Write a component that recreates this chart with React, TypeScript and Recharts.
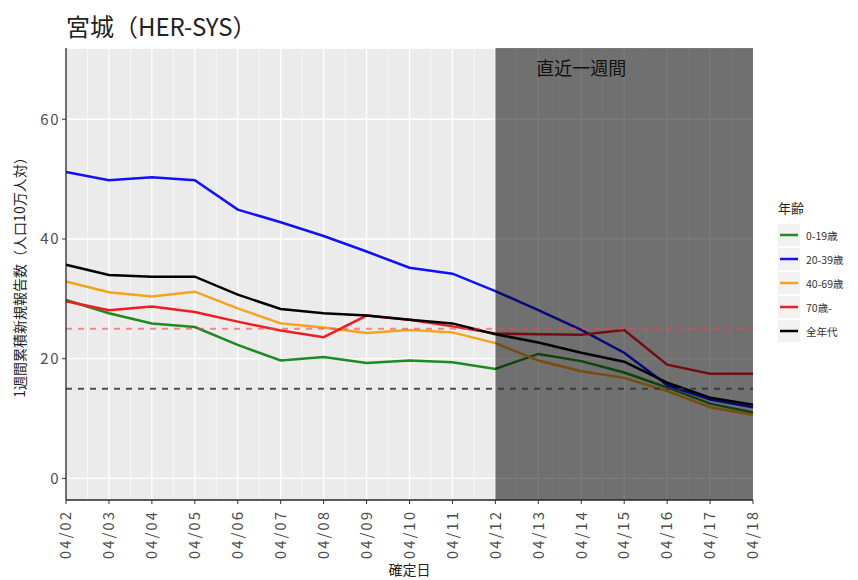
import React from 'react';
import {
	LineChart,
	Line,
	XAxis,
	YAxis,
	CartesianGrid,
	ReferenceArea,
	ReferenceLine,
	Legend,
} from 'recharts';

const dates = [
	'04/02', '04/03', '04/04', '04/05', '04/06', '04/07', '04/08', '04/09', '04/10',
	'04/11', '04/12', '04/13', '04/14', '04/15', '04/16', '04/17', '04/18',
];
const age0_19 = [29.8, 27.6, 25.9, 25.3, 22.3, 19.7, 20.3, 19.3, 19.7, 19.4, 18.3, 20.8, 19.6, 17.7, 15.2, 12.5, 11.0];
const age20_39 = [51.2, 49.8, 50.3, 49.8, 44.9, 42.8, 40.5, 37.9, 35.2, 34.2, 31.3, 28.1, 24.8, 21.0, 15.6, 13.2, 11.9];
const age40_69 = [32.9, 31.1, 30.4, 31.2, 28.4, 25.9, 25.2, 24.3, 24.8, 24.4, 22.6, 19.7, 17.9, 16.8, 14.6, 11.9, 10.6];
const age70 = [29.6, 28.1, 28.7, 27.8, 26.2, 24.7, 23.6, 27.2, 26.5, 25.4, 24.2, 24.1, 24.0, 24.8, 19.0, 17.5, 17.5];
const ageAll = [35.7, 34.0, 33.7, 33.7, 30.7, 28.3, 27.6, 27.2, 26.5, 25.9, 24.1, 22.7, 21.0, 19.5, 16.0, 13.5, 12.3];

const seriesNames = ['0-19歳', '20-39歳', '40-69歳', '70歳-', '全年代'];
const seriesColors = ['#1f8a1f', '#1010ff', '#f7a21b', '#f01c24', '#000000'];
const seriesValues = [age0_19, age20_39, age40_69, age70, ageAll];

const yTicks = [0, 20, 40, 60];
const yMinor = [10, 30, 50, 70];
const xTicks = dates.map((_, i) => i);
const xMinor = dates.slice(1).map((_, i) => i + 0.5);

const data = dates.map((d, i) => {
	const row: Record<string, any> = { i, date: d };
	seriesNames.forEach((n, k) => {
		row[n] = seriesValues[k][i];
	});
	return row;
});

const font = '"Noto Sans CJK JP", "Noto Sans", sans-serif';

const renderLegend = () => (
	<div style={{ fontFamily: font, color: '#222' }}>
		<div style={{ fontSize: 13, marginBottom: 6 }}>年齢</div>
		{seriesNames.map((n, k) => (
			<div key={n} style={{ display: 'flex', alignItems: 'center', height: 24 }}>
				<svg width={22} height={22}>
					<rect x={0} y={0} width={22} height={22} fill='#f2f2f2' />
					<line x1={2} x2={20} y1={11} y2={11} stroke={seriesColors[k]} strokeWidth={2.5} />
				</svg>
				<span style={{ fontSize: 10.5, marginLeft: 6, color: '#333' }}>{n}</span>
			</div>
		))}
	</div>
);

const App = () => {
	return (
		<div style={{ position: 'absolute', left: 0, top: 0, width: 858, height: 580, background: '#fff' }}>
			<div
				style={{
					position: 'absolute',
					left: 66,
					top: 8,
					fontFamily: font,
					fontSize: 24,
					color: '#222',
				}}
			>
				宮城（HER-SYS）
			</div>
			<LineChart
				width={858}
				height={580}
				data={data}
				margin={{ top: 48, right: 105, bottom: 0, left: 0 }}
			>
				<XAxis xAxisId='minor' dataKey='i' type='number' domain={[0, 16]} ticks={xMinor} hide />
				<YAxis yAxisId='minor' type='number' domain={[-3.6, 71.9]} ticks={yMinor} hide />
				<CartesianGrid
					xAxisId='minor'
					yAxisId='minor'
					fill='#ebebeb'
					stroke='#ffffff'
					strokeWidth={0.6}
				/>
				<CartesianGrid stroke='#ffffff' strokeWidth={1.3} />
				<XAxis
					dataKey='i'
					type='number'
					domain={[0, 16]}
					ticks={xTicks}
					interval={0}
					tickFormatter={(v) => dates[v]}
					height={80}
					axisLine={{ stroke: '#222', strokeWidth: 1.3 }}
					tickLine={{ stroke: '#333' }}
					tickSize={4}
					tick={(props: any) => (
						<text
							x={props.x}
							y={props.y + 4}
							transform={`rotate(-90, ${props.x}, ${props.y + 4})`}
							textAnchor='end'
							dy='0.35em'
							fill='#4d4d4d'
							fontSize={15}
							letterSpacing={2}
							fontFamily={font}
						>
							{dates[props.payload.value]}
						</text>
					)}
					label={{
						value: '確定日',
						position: 'insideBottom',
						offset: 5,
						fill: '#222',
						fontSize: 14,
						fontFamily: font,
					}}
				/>
				<YAxis
					type='number'
					domain={[-3.6, 71.9]}
					ticks={yTicks}
					width={66}
					axisLine={{ stroke: '#222', strokeWidth: 1.3 }}
					tickLine={{ stroke: '#333' }}
					tickSize={4}
					tick={{ fill: '#4d4d4d', fontSize: 15, fontFamily: font, letterSpacing: 1.5 }}
					label={{
						value: '1週間累積新規報告数（人口10万人対）',
						angle: -90,
						position: 'insideLeft',
						offset: 20,
						style: { textAnchor: 'middle' },
						fill: '#222',
						fontSize: 14,
						fontFamily: font,
					}}
				/>
				{seriesNames.map((n, k) => (
					<Line
						key={n}
						dataKey={n}
						name={n}
						stroke={seriesColors[k]}
						strokeWidth={2.5}
						dot={false}
						isAnimationActive={false}
					/>
				))}
				<ReferenceArea
					x1={10}
					x2={16}
					fill='#000000'
					fillOpacity={0.52}
					stroke='none'
					zIndex={450}
				/>
				<ReferenceLine y={25} stroke='#f04848' strokeOpacity={0.6} strokeWidth={2} strokeDasharray='6 6' zIndex={460} />
				<ReferenceLine y={15} stroke='#333' strokeOpacity={0.85} strokeWidth={2} strokeDasharray='6 6' zIndex={460} />
				<ReferenceLine
					x={12}
					stroke='none'
					zIndex={470}
					label={{
						value: '直近一週間',
						position: 'insideTop',
						offset: 14,
						fill: '#111',
						fontSize: 18,
						fontFamily: font,
					}}
				/>
				<Legend
					layout='vertical'
					align='center'
					verticalAlign='middle'
					content={renderLegend}
					wrapperStyle={{ position: 'absolute', left: 778, top: 198, width: 80 }}
				/>
			</LineChart>
		</div>
	);
};

export default App;
